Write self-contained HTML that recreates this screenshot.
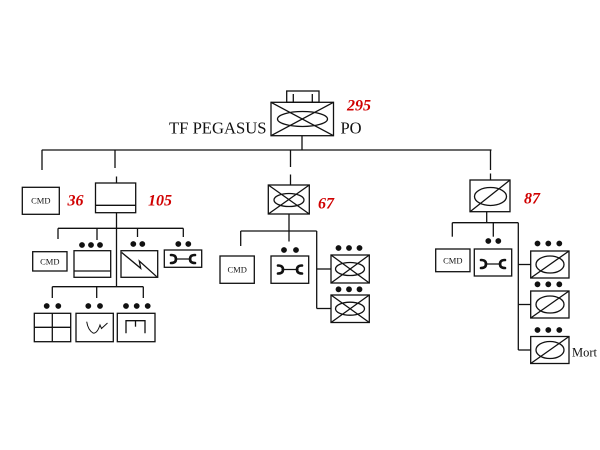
<!DOCTYPE html>
<html>
<head>
<meta charset="utf-8">
<style>
  html, body { margin:0; padding:0; background:#fff; }
  svg { display:block; }
  text { font-family: "Liberation Serif", serif; }
  .red { fill:#d00000; font-weight:bold; font-style:italic; font-size:16px; }
  .cmd { font-size:8.5px; fill:#111; }
</style>
</head>
<body>
<svg width="600" height="450" viewBox="0 0 600 450" xmlns="http://www.w3.org/2000/svg">
  <g stroke="#111" stroke-width="1.3" fill="none">
    <!-- HQ -->
    <rect x="286.7" y="91" width="32.3" height="11.3"/>
    <line x1="293.3" y1="94" x2="293.3" y2="102.3"/>
    <line x1="312.3" y1="94" x2="312.3" y2="102.3"/>
    <rect x="271" y="102.3" width="62.5" height="33.4"/>
    <line x1="271" y1="102.3" x2="333.5" y2="135.7"/>
    <line x1="271" y1="135.7" x2="333.5" y2="102.3"/>
    <ellipse cx="302.5" cy="119" rx="25" ry="7.5"/>
    <line x1="302" y1="135.7" x2="302" y2="150"/>
    <!-- main horizontal -->
    <line x1="41.8" y1="150" x2="491.5" y2="150"/>
    <line x1="42" y1="150" x2="42" y2="170"/>
    <line x1="115" y1="150" x2="115" y2="168"/>
    <line x1="116.5" y1="176.5" x2="116.5" y2="183"/>
    <line x1="290.5" y1="150" x2="290.5" y2="167"/>
    <line x1="290.5" y1="174.5" x2="290.5" y2="185"/>
    <line x1="490.5" y1="150" x2="490.5" y2="170"/>
    <line x1="490.5" y1="173.5" x2="490.5" y2="180"/>

    <!-- Left group -->
    <rect x="22.3" y="187.3" width="37" height="27"/>
    <rect x="95.5" y="183" width="40.2" height="29.7"/>
    <line x1="95.5" y1="205.3" x2="135.7" y2="205.3"/>
    <line x1="116.5" y1="212.7" x2="116.5" y2="287"/>
    <line x1="58" y1="228.3" x2="183.3" y2="228.3"/>
    <line x1="58" y1="228.3" x2="58" y2="239"/>
    <line x1="97" y1="228.3" x2="97" y2="240"/>
    <line x1="137.5" y1="228.3" x2="137.5" y2="237"/>
    <line x1="183.3" y1="228.3" x2="183.3" y2="237"/>
    <rect x="32.7" y="251.7" width="34.3" height="19.3"/>
    <rect x="74" y="250.7" width="36.7" height="26.6"/>
    <line x1="74" y1="271" x2="110.7" y2="271"/>
    <rect x="121" y="250.7" width="36.7" height="26.6"/>
    <polyline points="121.7,252.5 140.7,268.3 139.3,261 156.7,276.7"/>
    <rect x="164.3" y="250" width="37.4" height="17.3"/>
    <!-- lower -->
    <line x1="52.3" y1="286.7" x2="143.3" y2="286.7"/>
    <line x1="52.3" y1="286.7" x2="52.3" y2="298"/>
    <line x1="96.7" y1="286.7" x2="96.7" y2="298"/>
    <line x1="143.3" y1="286.7" x2="143.3" y2="298"/>
    <rect x="34.3" y="313.3" width="36.4" height="28.4"/>
    <line x1="52.3" y1="313.3" x2="52.3" y2="341.7"/>
    <line x1="34.3" y1="327.3" x2="70.7" y2="327.3"/>
    <rect x="76" y="313.3" width="37.3" height="28.4"/>
    <path d="M86.7,321.7 Q88,330 93,333 Q97,334 100,325 L101.5,328.5 L107.5,323" stroke-width="1"/>
    <rect x="117.3" y="313.3" width="37.7" height="28.4"/>
    <polyline points="126,333.3 126,320.7 145,320.7 145,333.3"/>
    <line x1="135.5" y1="320.7" x2="135.5" y2="326.7"/>

    <!-- Middle group (67) -->
    <rect x="268.3" y="185" width="41" height="29"/>
    <line x1="268.3" y1="185" x2="309.3" y2="214"/>
    <line x1="268.3" y1="214" x2="309.3" y2="185"/>
    <ellipse cx="289" cy="200" rx="15" ry="6.5"/>
    <line x1="289" y1="214" x2="289" y2="241.5"/>
    <line x1="240.7" y1="231" x2="316.7" y2="231"/>
    <line x1="240.7" y1="231" x2="240.7" y2="246"/>
    <line x1="316.7" y1="231" x2="316.7" y2="308.5"/>
    <line x1="316.7" y1="269" x2="331" y2="269"/>
    <line x1="316.7" y1="308.5" x2="331" y2="308.5"/>
    <rect x="220" y="256" width="34.3" height="27.3"/>
    <rect x="271" y="256" width="37.7" height="27.3"/>
    <rect x="331" y="255" width="38.3" height="28"/>
    <line x1="331" y1="255" x2="369.3" y2="283"/>
    <line x1="331" y1="283" x2="369.3" y2="255"/>
    <ellipse cx="350" cy="269" rx="14.5" ry="6.5"/>
    <rect x="331" y="295" width="38.3" height="27.5"/>
    <line x1="331" y1="295" x2="369.3" y2="322.5"/>
    <line x1="331" y1="322.5" x2="369.3" y2="295"/>
    <ellipse cx="350" cy="308.7" rx="14.5" ry="6.5"/>

    <!-- Right group (87) -->
    <rect x="470" y="180" width="40" height="31.7"/>
    <line x1="470" y1="211.7" x2="510" y2="180"/>
    <ellipse cx="490.5" cy="196.5" rx="16" ry="9"/>
    <line x1="486.7" y1="211.7" x2="486.7" y2="222.7"/>
    <line x1="452.3" y1="222.7" x2="518.3" y2="222.7"/>
    <line x1="452.3" y1="222.7" x2="452.3" y2="236.7"/>
    <line x1="493.3" y1="222.7" x2="493.3" y2="236.7"/>
    <line x1="518.3" y1="222.7" x2="518.3" y2="350"/>
    <line x1="518.3" y1="264.5" x2="530.7" y2="264.5"/>
    <line x1="518.3" y1="304.5" x2="530.7" y2="304.5"/>
    <line x1="518.3" y1="350" x2="530.7" y2="350"/>
    <rect x="435.7" y="249" width="34.3" height="22.7"/>
    <rect x="474.3" y="249" width="37.4" height="27"/>
    <rect x="530.7" y="251" width="38.3" height="27"/>
    <line x1="530.7" y1="278" x2="569" y2="251"/>
    <ellipse cx="550" cy="264.5" rx="14" ry="8.5"/>
    <rect x="530.7" y="291" width="38.3" height="27"/>
    <line x1="530.7" y1="318" x2="569" y2="291"/>
    <ellipse cx="550" cy="304.5" rx="14" ry="8.5"/>
    <rect x="530.7" y="336.5" width="38.3" height="27"/>
    <line x1="530.7" y1="363.5" x2="569" y2="336.5"/>
    <ellipse cx="550" cy="350" rx="14" ry="8.5"/>
  </g>

  <!-- wrench symbols -->
  <g stroke="#111" fill="none" stroke-linecap="round">
    <g transform="translate(183,259)">
      <line x1="-8" y1="0" x2="8" y2="0" stroke-width="1.2"/>
      <path d="M-12,-4 Q-7,-4 -7,0 Q-7,4 -12,4" stroke-width="2.6"/>
      <path d="M12,-4 Q7,-4 7,0 Q7,4 12,4" stroke-width="2.6"/>
    </g>
    <g transform="translate(290,269.5)">
      <line x1="-8" y1="0" x2="8" y2="0" stroke-width="1.2"/>
      <path d="M-12,-4 Q-7,-4 -7,0 Q-7,4 -12,4" stroke-width="2.6"/>
      <path d="M12,-4 Q7,-4 7,0 Q7,4 12,4" stroke-width="2.6"/>
    </g>
    <g transform="translate(493,264)">
      <line x1="-8" y1="0" x2="8" y2="0" stroke-width="1.2"/>
      <path d="M-12,-4 Q-7,-4 -7,0 Q-7,4 -12,4" stroke-width="2.6"/>
      <path d="M12,-4 Q7,-4 7,0 Q7,4 12,4" stroke-width="2.6"/>
    </g>
  </g>

  <!-- dots -->
  <g fill="#111">
    <circle cx="82" cy="245" r="2.9"/><circle cx="91" cy="245" r="2.9"/><circle cx="100" cy="245" r="2.9"/>
    <circle cx="133.3" cy="244" r="2.9"/><circle cx="142.3" cy="244" r="2.9"/>
    <circle cx="178.3" cy="244" r="2.9"/><circle cx="188.3" cy="244" r="2.9"/>
    <circle cx="46.7" cy="306" r="2.9"/><circle cx="58.3" cy="306" r="2.9"/>
    <circle cx="88.3" cy="306" r="2.9"/><circle cx="100" cy="306" r="2.9"/>
    <circle cx="126" cy="306" r="2.9"/><circle cx="136.7" cy="306" r="2.9"/><circle cx="147.7" cy="306" r="2.9"/>
    <circle cx="284" cy="250" r="2.9"/><circle cx="296" cy="250" r="2.9"/>
    <circle cx="338.5" cy="248" r="2.9"/><circle cx="349" cy="248" r="2.9"/><circle cx="359.5" cy="248" r="2.9"/>
    <circle cx="338.5" cy="289.3" r="2.9"/><circle cx="349" cy="289.3" r="2.9"/><circle cx="359.5" cy="289.3" r="2.9"/>
    <circle cx="488.3" cy="241" r="2.9"/><circle cx="498.3" cy="241" r="2.9"/>
    <circle cx="537.5" cy="243.5" r="2.9"/><circle cx="548.3" cy="243.5" r="2.9"/><circle cx="559.3" cy="243.5" r="2.9"/>
    <circle cx="537.5" cy="284.3" r="2.9"/><circle cx="548.3" cy="284.3" r="2.9"/><circle cx="559.3" cy="284.3" r="2.9"/>
    <circle cx="537.5" cy="330" r="2.9"/><circle cx="548.3" cy="330" r="2.9"/><circle cx="559.3" cy="330" r="2.9"/>
  </g>

  <!-- text -->
  <text x="169" y="133.3" font-size="16.7" fill="#111" textLength="97.5" lengthAdjust="spacingAndGlyphs">TF PEGASUS</text>
  <text x="340.5" y="133.3" font-size="16.5" fill="#111">PO</text>
  <text x="347" y="110.5" class="red">295</text>
  <text x="67.5" y="205.5" class="red">36</text>
  <text x="148" y="205.5" class="red">105</text>
  <text x="318" y="208.5" class="red">67</text>
  <text x="524" y="203.3" class="red">87</text>
  <text x="572" y="356.5" font-size="12.5" fill="#111">Mort</text>

  <text x="40.8" y="203.5" class="cmd" text-anchor="middle">CMD</text>
  <text x="49.8" y="264.5" class="cmd" text-anchor="middle" font-size="9">CMD</text>
  <text x="237.2" y="272.5" class="cmd" text-anchor="middle">CMD</text>
  <text x="452.8" y="263.3" class="cmd" text-anchor="middle">CMD</text>
</svg>
</body>
</html>
